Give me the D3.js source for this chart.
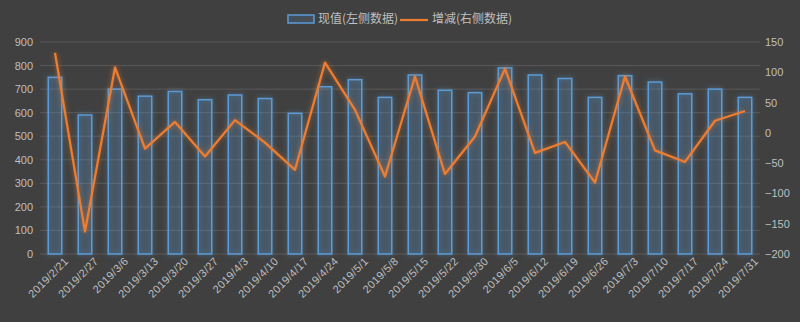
<!DOCTYPE html>
<html>
<head>
<meta charset="utf-8">
<script src="https://cdn.jsdelivr.net/npm/d3@7"></script>
<style>
  html, body { margin: 0; padding: 0; background: #404040; }
  svg { display: block; font-family: "Microsoft YaHei", "Noto Sans CJK SC", "DejaVu Sans", sans-serif; }
  .tick text { fill: #bfbfbf; }
</style>
</head>
<body>
<div id="chart"></div>
<script>
const dates = ["2019/2/21","2019/2/27","2019/3/6","2019/3/13","2019/3/20","2019/3/27","2019/4/3","2019/4/10","2019/4/17","2019/4/24","2019/5/1","2019/5/8","2019/5/15","2019/5/22","2019/5/30","2019/6/5","2019/6/12","2019/6/19","2019/6/26","2019/7/3","2019/7/10","2019/7/17","2019/7/24","2019/7/31"];
const current = [750,590,700,670,690,655,675,660,597,710,740,665,760,695,685,790,760,745,665,757,730,680,700,665];
const change = [132,-163,108,-26,18,-39,21,-16,-61,116,38,-72,93,-68,-6,106,-33,-15,-82,93,-29,-48,20,36];
const leftTicks = [0,100,200,300,400,500,600,700,800,900];
const rightTicks = [-200,-150,-100,-50,0,50,100,150];
const seriesNames = ["现值(左侧数据)", "增减(右侧数据)"];

const W = 800, H = 322;
const margin = {top: 42, right: 40, bottom: 68, left: 40};
const width = W - margin.left - margin.right;
const height = H - margin.top - margin.bottom;

const svg = d3.select("#chart").append("svg")
    .attr("width", W)
    .attr("height", H);

const defs = svg.append("defs");
// soft glow for bars and line
function glow(id, color, dev, op){
    const f = defs.append("filter").attr("id", id)
        .attr("x", "-50%").attr("y", "-50%").attr("width", "200%").attr("height", "200%");
    f.append("feGaussianBlur").attr("in", "SourceAlpha").attr("stdDeviation", dev).attr("result", "blur");
    f.append("feFlood").attr("flood-color", color).attr("flood-opacity", op);
    f.append("feComposite").attr("in2", "blur").attr("operator", "in").attr("result", "glow");
    const m = f.append("feMerge");
    m.append("feMergeNode").attr("in", "glow");
    m.append("feMergeNode").attr("in", "SourceGraphic");
}
glow("glowBlue", "#5b9bd5", 2.5, 0.6);
glow("glowOrange", "#ed7d31", 2.5, 0.6);

const g = svg.append("g").attr("transform", `translate(${margin.left},${margin.top})`);

const x = d3.scaleBand().domain(dates).range([0, width])
    .paddingInner(0.55).paddingOuter(0.275);
const yL = d3.scaleLinear().domain([0, 900]).range([height, 0]);
const yR = d3.scaleLinear().domain([-200, 150]).range([height, 0]);

// gridlines
g.append("g")
    .selectAll("line")
    .data(leftTicks)
    .enter()
    .append("line")
      .attr("x1", 0).attr("x2", width)
      .attr("y1", d => yL(d)).attr("y2", d => yL(d))
      .style("stroke", "#595959")
      .style("stroke-width", 1);

// left axis
const axL = g.append("g")
    .call(d3.axisLeft(yL).tickValues(leftTicks).tickSize(0).tickPadding(7));
axL.select(".domain").remove();
axL.selectAll("text").style("font-size", "11px");

// right axis
const axR = g.append("g")
    .attr("transform", `translate(${width},0)`)
    .call(d3.axisRight(yR).tickValues(rightTicks).tickSize(0).tickPadding(5));
axR.select(".domain").remove();
axR.selectAll("text").style("font-size", "11px");

// x axis
const axX = g.append("g")
    .attr("transform", `translate(0,${height})`)
    .call(d3.axisBottom(x).tickSize(0).tickPadding(9));
axX.select(".domain").remove();
axX.selectAll("text")
    .style("font-size", "11px")
    .style("letter-spacing", "0.3px")
    .style("text-anchor", "end")
    .attr("dx", "0.4em")
    .attr("dy", "0.6em")
    .attr("transform", "rotate(-45)");

// bars
g.append("g")
    .selectAll("rect")
    .data(current)
    .enter()
    .append("rect")
      .attr("x", (d, i) => x(dates[i]))
      .attr("y", d => yL(d))
      .attr("width", x.bandwidth())
      .attr("height", d => height - yL(d))
      .style("fill", "rgba(91,155,213,0.17)")
      .style("stroke", "#5b9bd5")
      .style("stroke-width", 1.5)
      .attr("filter", "url(#glowBlue)");

// line
const line = d3.line()
    .x((d, i) => x(dates[i]) + x.bandwidth() / 2)
    .y(d => yR(d));

g.append("path")
    .datum(change)
    .attr("d", line)
    .style("fill", "none")
    .style("stroke", "#ed7d31")
    .style("stroke-width", 2.25)
    .style("stroke-linejoin", "round")
    .attr("filter", "url(#glowOrange)");

// legend
const legend = svg.append("g").attr("transform", "translate(288,19)");
legend.append("rect")
    .attr("x", 0).attr("y", -4)
    .attr("width", 26).attr("height", 8)
    .style("fill", "rgba(91,155,213,0.17)")
    .style("stroke", "#5b9bd5")
    .style("stroke-width", 1.5);
legend.append("text")
    .attr("x", 30).attr("y", 0).attr("dy", "0.35em")
    .style("fill", "#bfbfbf").style("font-size", "12px")
    .text(seriesNames[0]);
legend.append("line")
    .attr("x1", 112).attr("x2", 140).attr("y1", 1).attr("y2", 1)
    .style("stroke", "#ed7d31").style("stroke-width", 2.25);
legend.append("text")
    .attr("x", 144).attr("y", 0).attr("dy", "0.35em")
    .style("fill", "#bfbfbf").style("font-size", "12px")
    .text(seriesNames[1]);
</script>
</body>
</html>
